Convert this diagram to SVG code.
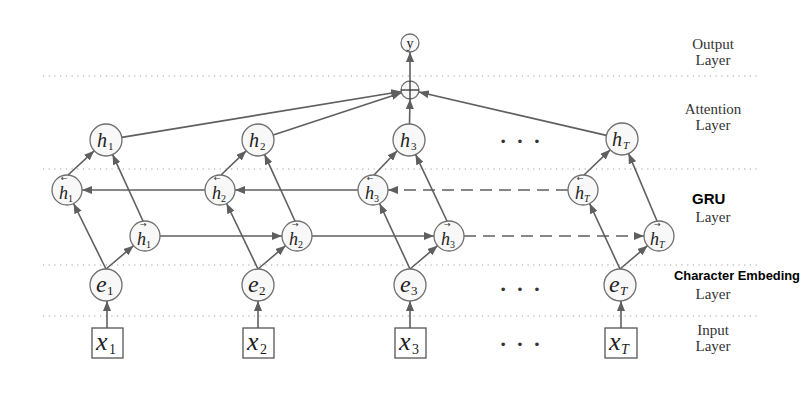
<svg xmlns="http://www.w3.org/2000/svg" width="805" height="402" viewBox="0 0 805 402">
<style>
.sep{stroke:#a0a0a0;stroke-width:1.2;stroke-dasharray:1.2 4.5;fill:none}
.node{fill:#f8f8f8;stroke:#6e6e6e;stroke-width:1.3}
.box{fill:#fff;stroke:#555;stroke-width:1.3}
.e{stroke:#5f5f5f;stroke-width:1.6;fill:none;marker-end:url(#ah)}
.dash{stroke-dasharray:12 7}
.m{font-family:"Liberation Serif",serif;font-style:italic;fill:#222}
.sub{font-family:"Liberation Serif",serif;font-style:normal;fill:#222}
.acc{font-family:"DejaVu Sans",sans-serif;fill:#333;font-size:8px}
.lbl{font-family:"Liberation Serif",serif;font-size:15px;fill:#333;text-anchor:middle}
.bold{font-family:"Liberation Sans",sans-serif;font-weight:bold;fill:#000}
.dots{font-family:"Liberation Serif",serif;font-size:22px;font-weight:bold;fill:#333;text-anchor:middle;letter-spacing:2px}
</style>
<defs>
<marker id="ah" viewBox="0 0 10 8" refX="10" refY="4" markerWidth="10" markerHeight="8" markerUnits="userSpaceOnUse" orient="auto">
<path d="M0,0 L10,4 L0,8 z" fill="#5f5f5f"/>
</marker>
</defs>
<g id="separators">
<line class="sep" x1="43" y1="76" x2="757" y2="76"/>
<line class="sep" x1="43" y1="169" x2="757" y2="169"/>
<line class="sep" x1="43" y1="265" x2="757" y2="265"/>
<line class="sep" x1="43" y1="316" x2="757" y2="316"/>
</g>
<g id="connectors">
<line class="e" x1="107" y1="328" x2="107" y2="301"/>
<line class="e" x1="258" y1="328" x2="258" y2="301"/>
<line class="e" x1="410" y1="328" x2="410" y2="301"/>
<line class="e" x1="621" y1="328" x2="621" y2="301"/>
<line class="e" x1="106" y1="269" x2="73.6" y2="203.5"/>
<line class="e" x1="258" y1="269" x2="226.6" y2="203.5"/>
<line class="e" x1="410" y1="269" x2="379.6" y2="203.5"/>
<line class="e" x1="620" y1="269" x2="589.6" y2="203.5"/>
<line class="e" x1="106" y1="269" x2="133.5" y2="245.7"/>
<line class="e" x1="258" y1="269" x2="285.5" y2="245.7"/>
<line class="e" x1="410" y1="269" x2="437.5" y2="245.7"/>
<line class="e" x1="620" y1="269" x2="647.5" y2="245.7"/>
<line class="e" x1="143" y1="221" x2="112.6" y2="154.6"/>
<line class="e" x1="295" y1="221" x2="264.6" y2="154.6"/>
<line class="e" x1="447" y1="221" x2="415.6" y2="154.6"/>
<line class="e" x1="657" y1="221" x2="628.6" y2="153.6"/>
<line class="e" x1="68" y1="175" x2="94.2" y2="150.8"/>
<line class="e" x1="221" y1="175" x2="246.2" y2="150.8"/>
<line class="e" x1="374" y1="175" x2="397.2" y2="150.8"/>
<line class="e" x1="584" y1="175" x2="610.2" y2="149.8"/>
<line class="e" x1="205" y1="190" x2="82" y2="190"/>
<line class="e" x1="358" y1="190" x2="235" y2="190"/>
<line class="e dash" x1="568" y1="190" x2="388" y2="190"/>
<line class="e" x1="160" y1="236" x2="282" y2="236"/>
<line class="e" x1="312" y1="236" x2="434" y2="236"/>
<line class="e dash" x1="464" y1="236" x2="644" y2="236"/>
<line class="e" x1="121.8" y1="137.4" x2="401.1" y2="91.5"/>
<line class="e" x1="273.2" y1="135" x2="401.5" y2="92.8"/>
<line class="e" x1="409.5" y1="124" x2="410" y2="99"/>
<line class="e" x1="606.4" y1="135.4" x2="418.8" y2="92"/>
<line class="e" x1="410" y1="81" x2="410" y2="52"/>
</g>
<g id="y">
<circle class="node" cx="410" cy="43" r="9"/>
<text x="410" y="48" font-family="Liberation Serif,serif" font-size="14" fill="#222" text-anchor="middle">y</text>
</g>
<g id="sum">
<circle class="node" cx="410" cy="90" r="9"/>
<line x1="401" y1="90" x2="419" y2="90" stroke="#333" stroke-width="1.3"/>
<line x1="410" y1="81" x2="410" y2="99" stroke="#333" stroke-width="1.3"/>
</g>
<g id="att1"><circle class="node" cx="106" cy="140" r="16"/><text class="m" x="97" y="147" font-size="20">h</text><text class="sub" x="108" y="150" font-size="11">1</text></g>
<g id="att2"><circle class="node" cx="258" cy="140" r="16"/><text class="m" x="249" y="147" font-size="20">h</text><text class="sub" x="260" y="150" font-size="11">2</text></g>
<g id="att3"><circle class="node" cx="409" cy="140" r="16"/><text class="m" x="400" y="147" font-size="20">h</text><text class="sub" x="411" y="150" font-size="11">3</text></g>
<g id="attT"><circle class="node" cx="622" cy="139" r="16"/><text class="m" x="612" y="146" font-size="20">h</text><text class="m" x="623" y="149" font-size="11">T</text></g>
<g id="bwd1"><circle class="node" cx="67" cy="190" r="15"/><text class="acc" x="61" y="181">←</text><text class="m" x="59" y="199" font-size="18">h</text><text class="sub" x="68" y="202" font-size="10">1</text></g>
<g id="bwd2"><circle class="node" cx="220" cy="190" r="15"/><text class="acc" x="214" y="181">←</text><text class="m" x="212" y="199" font-size="18">h</text><text class="sub" x="221" y="202" font-size="10">2</text></g>
<g id="bwd3"><circle class="node" cx="373" cy="190" r="15"/><text class="acc" x="367" y="181">←</text><text class="m" x="365" y="199" font-size="18">h</text><text class="sub" x="374" y="202" font-size="10">3</text></g>
<g id="bwdT"><circle class="node" cx="583" cy="190" r="15"/><text class="acc" x="577" y="181">←</text><text class="m" x="575" y="199" font-size="18">h</text><text class="m" x="584" y="202" font-size="10">T</text></g>
<g id="fwd1"><circle class="node" cx="145" cy="236" r="15"/><text class="acc" x="140" y="227">→</text><text class="m" x="137" y="245" font-size="18">h</text><text class="sub" x="146" y="248" font-size="10">1</text></g>
<g id="fwd2"><circle class="node" cx="297" cy="236" r="15"/><text class="acc" x="292" y="227">→</text><text class="m" x="289" y="245" font-size="18">h</text><text class="sub" x="298" y="248" font-size="10">2</text></g>
<g id="fwd3"><circle class="node" cx="449" cy="236" r="15"/><text class="acc" x="444" y="227">→</text><text class="m" x="441" y="245" font-size="18">h</text><text class="sub" x="450" y="248" font-size="10">3</text></g>
<g id="fwdT"><circle class="node" cx="659" cy="236" r="15"/><text class="acc" x="654" y="227">→</text><text class="m" x="650" y="245" font-size="18">h</text><text class="m" x="659" y="248" font-size="10">T</text></g>
<g id="emb1"><circle class="node" cx="106" cy="285" r="16"/><text class="m" x="96" y="292" font-size="24">e</text><text class="sub" x="107" y="295" font-size="13">1</text></g>
<g id="emb2"><circle class="node" cx="258" cy="285" r="16"/><text class="m" x="248" y="292" font-size="24">e</text><text class="sub" x="259" y="295" font-size="13">2</text></g>
<g id="emb3"><circle class="node" cx="410" cy="285" r="16"/><text class="m" x="400" y="292" font-size="24">e</text><text class="sub" x="411" y="295" font-size="13">3</text></g>
<g id="embT"><circle class="node" cx="620" cy="285" r="16"/><text class="m" x="609" y="292" font-size="24">e</text><text class="m" x="620" y="295" font-size="13">T</text></g>
<g id="in1"><rect class="box" x="92" y="328" width="31" height="30"/><text class="m" x="96" y="350" font-size="26">x</text><text class="sub" x="109" y="354" font-size="14">1</text></g>
<g id="in2"><rect class="box" x="243" y="328" width="31" height="30"/><text class="m" x="247" y="350" font-size="26">x</text><text class="sub" x="260" y="354" font-size="14">2</text></g>
<g id="in3"><rect class="box" x="395" y="328" width="31" height="30"/><text class="m" x="399" y="350" font-size="26">x</text><text class="sub" x="412" y="354" font-size="14">3</text></g>
<g id="inT"><rect class="box" x="605" y="328" width="32" height="30"/><text class="m" x="609" y="350" font-size="26">x</text><text class="m" x="621" y="354" font-size="14">T</text></g>
<g id="ellipses">
<text class="dots" x="521" y="148">· · ·</text>
<text class="dots" x="521" y="296">· · ·</text>
<text class="dots" x="521" y="351">· · ·</text>
</g>
<g id="labels">
<text class="lbl" x="713" y="49">Output</text>
<text class="lbl" x="713" y="65">Layer</text>
<text class="lbl" x="713" y="114">Attention</text>
<text class="lbl" x="713" y="130">Layer</text>
<text class="bold" x="692" y="204" font-size="15">GRU</text>
<text class="lbl" x="713" y="222">Layer</text>
<text class="bold" x="674" y="280" font-size="13" textLength="126" lengthAdjust="spacingAndGlyphs">Character Embeding</text>
<text class="lbl" x="713" y="299">Layer</text>
<text class="lbl" x="713" y="335">Input</text>
<text class="lbl" x="713" y="351">Layer</text>
</g>
</svg>
